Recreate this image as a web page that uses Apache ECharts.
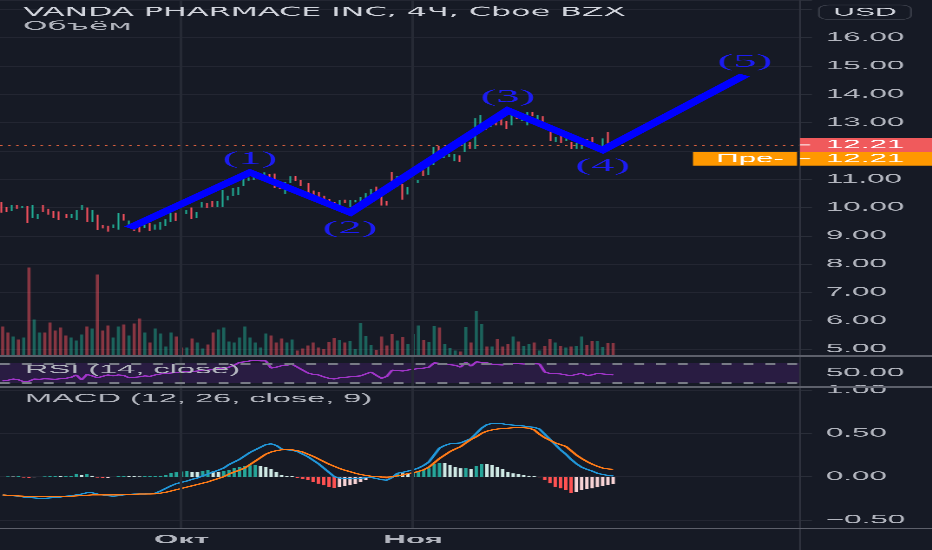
<!DOCTYPE html>
<html><head><meta charset="utf-8">
<script src="https://cdn.jsdelivr.net/npm/echarts@6/dist/echarts.min.js"></script>
<style>
html,body{margin:0;padding:0;background:#161a25;overflow:hidden;width:932px;height:550px;}
#wrap{position:absolute;left:0;top:0;width:358px;height:550px;transform:scaleX(2.6033520);transform-origin:0 0;}
#chart{width:358px;height:550px;}
</style></head><body>
<div id="wrap"><div id="chart"></div></div>
<script>
// ---------------- texts ----------------
const titleText = 'VANDA PHARMACE INC, 4Ч, Cboe BZX';
const volumeTitle = 'Объём';
const rsiTitle = 'RSI (14, close)';
const macdTitle = 'MACD (12, 26, close, 9)';
const currencyLabel = 'USD';
const preMarketLabel = 'Пре-';
const monthLabels = ['Окт', 'Ноя'];
const monthIndex = [34, 78];
const slotCount = 152; // time slots on the axis (117 bars + empty space on the right)

// ---------------- 4h bars ----------------
const open = [10.15,10.00,9.90,10.06,9.98,10.03,9.66,9.64,10.03,9.88,
9.86,9.84,9.74,9.66,9.58,9.92,9.97,9.50,9.73,9.37,
9.35,9.30,9.30,9.76,9.31,9.44,9.46,9.30,9.42,9.23,
9.30,9.36,9.50,9.80,9.90,9.80,9.94,9.64,10.03,10.15,
10.22,10.05,10.05,10.27,10.45,10.47,10.77,10.98,11.00,11.09,
11.14,11.15,11.15,10.76,10.50,10.89,11.09,10.94,10.85,10.59,
10.54,10.40,10.29,10.17,10.05,10.26,10.05,10.20,10.20,10.33,
10.29,10.68,10.41,10.20,10.95,10.76,10.82,10.48,10.88,10.90,
11.29,11.18,11.65,12.12,11.85,11.80,11.65,11.82,12.15,12.29,
12.09,12.95,13.03,12.92,13.15,13.10,13.03,12.92,13.39,13.10,
12.95,13.34,13.12,13.19,12.76,12.33,12.45,12.36,12.29,12.10,
12.29,12.40,12.48,12.09,12.03,12.60,12.30];
const high = [10.20,10.02,10.08,10.08,10.06,10.05,10.08,9.76,10.08,9.96,
9.87,9.86,9.76,9.78,9.90,10.10,10.00,9.90,9.75,9.38,
9.36,9.40,9.80,9.78,9.54,9.46,9.48,9.40,9.44,9.40,
9.50,9.58,9.80,9.82,9.98,9.90,10.00,9.84,10.20,10.17,
10.24,10.22,10.62,10.42,10.70,10.73,11.06,11.06,11.24,11.22,
11.24,11.18,11.20,10.78,10.90,11.10,11.12,10.96,10.87,10.60,
10.56,10.42,10.31,10.19,10.26,10.28,10.26,10.26,10.38,10.50,
10.66,10.74,10.43,10.22,11.26,11.12,10.84,10.73,11.26,10.98,
11.31,11.46,12.15,12.17,11.98,11.90,11.88,11.84,12.38,12.31,
13.15,13.26,13.05,13.08,13.20,13.16,13.05,13.35,13.40,13.24,
13.38,13.38,13.27,13.22,12.78,12.50,12.52,12.44,12.31,12.29,
12.46,12.42,12.50,12.22,12.44,12.68,12.36];
const low = [9.82,9.84,9.88,9.96,9.97,9.45,9.64,9.60,9.84,9.75,
9.62,9.56,9.62,9.64,9.56,9.90,9.48,9.48,9.20,9.26,
9.15,9.28,9.22,9.54,9.28,9.18,9.12,9.28,9.16,9.22,
9.22,9.34,9.48,9.52,9.78,9.78,9.60,9.62,10.00,9.98,
10.03,10.02,10.03,10.25,10.40,10.45,10.75,10.95,10.98,11.07,
11.10,11.03,10.70,10.66,10.48,10.87,10.93,10.76,10.52,10.42,
10.28,10.24,10.12,9.98,10.03,10.16,10.03,10.18,10.18,10.31,
10.27,10.56,10.07,10.07,10.62,10.74,10.28,10.46,10.86,10.86,
11.12,11.16,11.50,11.93,11.75,11.79,11.63,11.62,11.95,12.08,
12.07,12.90,12.74,12.85,12.90,12.90,12.78,12.90,13.13,13.06,
12.90,13.22,13.10,12.80,12.34,12.31,12.28,12.34,12.07,12.08,
12.08,12.33,12.09,12.05,11.98,12.25,12.18];
const close = [9.86,9.86,10.06,9.98,10.04,9.56,9.72,9.72,9.86,9.82,
9.80,9.58,9.64,9.74,9.88,10.02,9.50,9.88,9.32,9.28,
9.30,9.38,9.44,9.56,9.52,9.20,9.16,9.36,9.18,9.38,
9.40,9.56,9.79,9.64,9.84,9.88,9.64,9.82,10.18,10.05,
10.05,10.15,10.33,10.40,10.50,10.71,11.03,11.02,11.18,11.20,
11.17,11.06,10.73,10.68,10.89,11.09,10.95,10.78,10.54,10.44,
10.30,10.30,10.14,10.02,10.24,10.18,10.22,10.24,10.36,10.48,
10.64,10.62,10.09,10.09,10.73,11.10,10.36,10.71,10.97,10.94,
11.16,11.44,12.09,12.06,11.95,11.89,11.86,11.68,12.31,12.09,
13.00,13.20,12.76,13.05,12.92,12.92,12.80,13.27,13.15,13.20,
13.30,13.26,13.24,12.83,12.36,12.48,12.38,12.42,12.09,12.27,
12.44,12.35,12.11,12.20,12.42,12.27,12.21];
// volume, thousands of shares
const volume = [580,460,380,320,360,1760,720,460,460,660,500,560,400,360,300,420,580,540,1620,500,
600,360,580,620,400,640,740,460,260,540,440,180,460,380,160,160,340,260,140,220,
460,520,560,280,260,360,580,360,260,160,440,400,260,340,260,320,100,140,200,260,160,
134,266,346,314,260,294,126,646,394,214,114,380,200,434,300,366,234,434,600,314,
266,594,560,234,146,100,80,566,260,894,626,180,180,326,180,234,380,280,194,234,
260,100,194,326,260,194,160,180,194,380,214,294,294,166,246,246];
const rsi = [33.5,35,37.6,36,32,33,37.6,37,38,37.6,
37,38,39,41,46,35.6,47,44,40,43,
46,44,46,45,40,41,42,44,43,46,
48,49,50,51,52,52.7,53,54,55,56,
57,58.5,60,62,66,72,73,75,75.5,75,
75,60,62,65,66,68,62,56,50,47,
46,42,39,37.6,40,41,42,43,44,48,
52,45,39,43,56,55,54,56,57.6,59,
60,62,71,70,68,67,66,62,72,64,
73,72,71,68,67,66.5,68,70,69,68.5,
68.5,69,68.5,52,49,48.5,48,46,44.5,47,
49.4,45,46,49.4,48,47,46];
const macd = [-0.21,-0.215,-0.22,-0.225,-0.235,-0.24,-0.245,-0.25,-0.25,-0.245,
-0.24,-0.235,-0.225,-0.22,-0.21,-0.2,-0.185,-0.185,-0.2,-0.21,
-0.22,-0.225,-0.22,-0.21,-0.205,-0.2,-0.2,-0.2,-0.195,-0.19,
-0.165,-0.135,-0.105,-0.08,-0.065,-0.05,-0.03,-0.015,0.01,0.03,
0.055,0.075,0.1,0.14,0.17,0.2,0.24,0.28,0.31,0.34,
0.37,0.38,0.36,0.32,0.31,0.305,0.29,0.26,0.23,0.19,
0.15,0.1,0.05,0.0,-0.015,-0.02,-0.025,-0.02,-0.018,-0.012,
-0.01,-0.02,-0.035,-0.04,-0.01,0.04,0.05,0.065,0.08,0.1,
0.13,0.17,0.25,0.33,0.36,0.38,0.385,0.39,0.415,0.44,
0.5,0.56,0.6,0.615,0.615,0.61,0.6,0.595,0.59,0.585,
0.575,0.57,0.55,0.49,0.43,0.37,0.31,0.26,0.2,0.15,
0.11,0.085,0.065,0.04,0.025,0.015,0.008];
const signal = [-0.21,-0.215,-0.22,-0.222,-0.225,-0.227,-0.228,-0.23,-0.23,-0.23,
-0.23,-0.23,-0.228,-0.226,-0.222,-0.218,-0.214,-0.21,-0.21,-0.21,
-0.21,-0.21,-0.21,-0.208,-0.205,-0.203,-0.2,-0.2,-0.2,-0.198,
-0.19,-0.18,-0.165,-0.15,-0.135,-0.12,-0.105,-0.09,-0.075,-0.06,
-0.04,-0.02,0.0,0.03,0.055,0.075,0.1,0.14,0.18,0.22,
0.26,0.285,0.3,0.31,0.312,0.31,0.3,0.285,0.26,0.235,
0.205,0.175,0.145,0.12,0.095,0.075,0.058,0.04,0.025,0.015,
0.005,0.0,-0.003,-0.005,-0.002,0.01,0.02,0.035,0.046,0.06,
0.08,0.11,0.16,0.21,0.25,0.29,0.32,0.346,0.39,0.43,
0.46,0.5,0.525,0.54,0.55,0.555,0.56,0.565,0.565,0.565,
0.56,0.54,0.49,0.45,0.42,0.39,0.37,0.35,0.3,0.25,
0.21,0.175,0.145,0.12,0.1,0.09,0.085];
const hist = [-0.004,0.003,0.002,0.004,-0.01,-0.014,-0.008,-0.004,0.003,0.004,0.005,0.004,0.006,
0.01,0.035,0.02,0.028,0.012,-0.01,-0.018,-0.012,-0.004,0.004,0.006,0.005,0.004,0.003,0.004,0.005,0.008,0.012,
0.02,0.04,0.05,0.06,0.065,0.055,0.052,0.065,0.08,0.06,0.055,0.065,0.08,0.1,0.108,0.12,0.13,0.135,0.123,0.108,0.085,0.058,0.02,0.008,0.004,
-0.012,-0.025,-0.04,-0.06,-0.08,-0.1,-0.12,-0.13,-0.12,-0.11,-0.1,-0.085,-0.06,-0.04,-0.015,-0.005,-0.01,-0.02,0.01,0.04,
0.038,0.035,0.05,0.058,0.077,0.096,0.146,0.16,0.155,0.135,0.115,0.096,0.1,0.085,0.123,0.146,0.145,0.135,0.108,0.085,
0.058,0.038,0.031,0.019,0.012,0.008,-0.008,-0.038,-0.077,-0.115,-0.135,-0.154,-0.185,-0.175,-0.154,-0.146,-0.135,-0.123,-0.108,-0.096,-0.088];
// Elliott wave drawing (bar slot, price)
const waveIndex = [24, 47, 66, 96, 114, 141];
const wavePrice = [9.27, 11.24, 9.82, 13.43, 12.03, 14.68];
const waveLabels = ['', '(1)', '(2)', '(3)', '(4)', '(5)'];
const lastPrice = 12.21;
const preMarketPrice = 12.21;
const rsiLevels = [70, 30];

// ---------------- layout helpers ----------------
const K = 932 / 358;            // page is stretched horizontally by K
const nx = v => v / K;          // reference-pixel x -> chart x
const BG = '#161a25';
const AXIS_TXT = '#b2b5be';
const UP = '#22ab94', DOWN = '#f7525f';
const gx = { left: nx(-0.625), width: nx(800.625) };
const grids = [
  Object.assign({ top: 0, height: 356 }, gx),
  Object.assign({ top: 255.5, height: 100 }, gx),
  Object.assign({ top: 356.5, height: 31 }, gx),
  Object.assign({ top: 387.5, height: 140.5 }, gx)
];
const slots = Array.from({ length: slotCount }, (_, i) => String(i));
const xAxes = grids.map((g, gi) => ({
  type: 'category', gridIndex: gi, data: slots, boundaryGap: true,
  axisLine: { show: false }, axisTick: { show: false }, splitLine: { show: false },
  axisLabel: gi === 3 ? {
    show: true, interval: idx => monthIndex.includes(idx),
    formatter: v => { const k = monthIndex.indexOf(Number(v)); return k >= 0 ? monthLabels[k] : ''; },
    color: AXIS_TXT, fontFamily: 'Liberation Sans', fontSize: 12, fontWeight: 'bold', margin: 6
  } : { show: false }
}));
const labelBase = { color: AXIS_TXT, fontFamily: 'Liberation Sans', fontSize: 12, margin: nx(26), align: 'left' };
const tickStyle = { show: true, length: nx(12), lineStyle: { color: '#2a2e39', width: 1 } };
const yAxes = [
  { type: 'value', gridIndex: 0, position: 'right', min: 4.753, max: 17.332, splitNumber: 12,
    axisLine: { show: false }, axisTick: tickStyle,
    splitLine: { lineStyle: { color: '#232632', width: 1 } },
    axisLabel: Object.assign({}, labelBase, { formatter: v => {
      if (Math.abs(v - Math.round(v)) > 1e-6 || v > 16.5) return '';
      if (Math.abs(v - lastPrice) < 0.5) return '';
      return v.toFixed(2);
    } }) },
  { type: 'value', gridIndex: 1, min: 0, max: 2000, show: false, splitLine: { show: false } },
  { type: 'value', gridIndex: 2, position: 'right', min: 20, max: 84, interval: 10,
    axisLine: { show: false }, axisTick: { show: false }, splitLine: { show: false },
    axisLabel: Object.assign({}, labelBase, { formatter: v => v === 50 ? '50.00' : '' }) },
  { type: 'value', gridIndex: 3, position: 'right', min: -0.592, max: 1.029, splitNumber: 3,
    axisLine: { show: false }, axisTick: tickStyle,
    splitLine: { lineStyle: { color: '#232632', width: 1 } },
    axisLabel: Object.assign({}, labelBase, { formatter: v => {
      if (Math.abs(v * 2 - Math.round(v * 2)) > 1e-6) return '';
      return (v < 0 ? '\u2212' : '') + Math.abs(v).toFixed(2);
    } }) }
];
const histColor = i => {
  const v = hist[i], p = i > 0 ? hist[i - 1] : 0;
  return v >= 0 ? (v > p ? '#26a69a' : '#cfe9e5') : (v > p ? '#f7d3d5' : '#ff5252');
};
const vLines = gi => ({
  type: 'line', xAxisIndex: gi, yAxisIndex: gi, data: [], silent: true, z: 0,
  markLine: { silent: true, symbol: ['none', 'none'], label: { show: false }, animation: false,
    lineStyle: { color: '#262a35', width: 1, type: 'solid' },
    data: monthIndex.map(i => ({ xAxis: i })) }
});
const titleStyle = (size, color, fam) => ({ color, fontSize: size, fontFamily: fam, fontWeight: 'normal', lineHeight: 14 });

const option = {
  backgroundColor: BG,
  animation: false,
  title: [
    { text: titleText, left: nx(23), top: 5.5, padding: 0, textStyle: titleStyle(12.2, '#d1d4dc', 'DejaVu Sans') },
    { text: volumeTitle, left: nx(23), top: 19.5, padding: 0, textStyle: titleStyle(12, '#b2b5be', 'DejaVu Sans') },
    { text: rsiTitle, left: nx(25), top: 363, padding: 0, textStyle: titleStyle(12.5, '#b2b5be', 'Liberation Sans') },
    { text: macdTitle, left: nx(25), top: 392, padding: 0, textStyle: titleStyle(12.5, '#b2b5be', 'Liberation Sans') }
  ],
  grid: grids,
  xAxis: xAxes,
  yAxis: yAxes,
  series: [
    vLines(0), vLines(2), vLines(3),
    { type: 'bar', name: 'Volume', xAxisIndex: 1, yAxisIndex: 1, data: volume, barWidth: '60%', silent: true, z: 1,
      itemStyle: { color: p => close[p.dataIndex] >= open[p.dataIndex] ? 'rgba(34,171,148,0.5)' : 'rgba(247,82,95,0.5)' } },
    { type: 'candlestick', name: 'VNDA', xAxisIndex: 0, yAxisIndex: 0, z: 3, barWidth: '64%', silent: true,
      data: open.map((o, i) => [o, close[i], low[i], high[i]]),
      itemStyle: { color: UP, color0: DOWN, borderColor: UP, borderColor0: DOWN, borderWidth: 0.7 },
      markLine: { silent: true, symbol: ['none', 'none'], label: { show: false }, animation: false,
        lineStyle: { color: '#d9603f', type: [1, 2.1], width: 1 }, data: [{ yAxis: lastPrice }] } },
    { type: 'line', name: 'Wave', xAxisIndex: 0, yAxisIndex: 0, z: 5, silent: true,
      symbol: 'circle', symbolSize: 0.1, showSymbol: true,
      itemStyle: { color: 'rgba(0,0,0,0)' },
      lineStyle: { color: '#0000ff', width: 5, cap: 'butt', join: 'miter' },
      label: { fontFamily: 'Liberation Serif', fontSize: 18, color: '#1c1cf0' },
      data: waveIndex.map((x, i) => ({
        value: [x, wavePrice[i]],
        label: waveLabels[i] ? { show: true, formatter: waveLabels[i], position: i % 2 ? 'top' : 'bottom', distance: i % 2 ? 4 : 7 } : { show: false }
      })) },
    { type: 'line', name: 'RSI', xAxisIndex: 2, yAxisIndex: 2, data: rsi, symbol: 'none', silent: true, z: 3,
      lineStyle: { color: '#a035c8', width: 1.2 },
      markArea: { silent: true, itemStyle: { color: 'rgba(130,40,200,0.18)' },
        data: [[{ yAxis: rsiLevels[0] }, { yAxis: rsiLevels[1] }]] },
      markLine: { silent: true, symbol: ['none', 'none'], label: { show: false }, animation: false,
        lineStyle: { color: '#787b86', type: [3.8, 4.6], width: 1.5 },
        data: rsiLevels.map(v => ({ yAxis: v })) } },
    { type: 'bar', name: 'Histogram', xAxisIndex: 3, yAxisIndex: 3, data: hist, barWidth: '65%', silent: true, z: 2,
      itemStyle: { color: p => histColor(p.dataIndex) } },
    { type: 'line', name: 'MACD', xAxisIndex: 3, yAxisIndex: 3, data: macd, symbol: 'none', silent: true, z: 4,
      lineStyle: { color: '#2196d8', width: 1.2 } },
    { type: 'line', name: 'Signal', xAxisIndex: 3, yAxisIndex: 3, data: signal, symbol: 'none', silent: true, z: 4,
      lineStyle: { color: '#ff7b17', width: 1.2 } }
  ],
  graphic: [
    { id: 'axisSep', type: 'line', silent: true, z: 50, shape: { x1: nx(800), y1: 0, x2: nx(800), y2: 550 }, style: { stroke: '#30343f', lineWidth: 0.7 } },
    { id: 'sep1', type: 'line', silent: true, z: 50, shape: { x1: 0, y1: 356, x2: 358, y2: 356 }, style: { stroke: '#5d606b', lineWidth: 1.3 } },
    { id: 'sep2', type: 'line', silent: true, z: 50, shape: { x1: 0, y1: 387, x2: 358, y2: 387 }, style: { stroke: '#5d606b', lineWidth: 1.3 } },
    { id: 'sep3', type: 'line', silent: true, z: 50, shape: { x1: 0, y1: 528.3, x2: 358, y2: 528.3 }, style: { stroke: '#5d606b', lineWidth: 1.3 } },
    { id: 'usdBox', type: 'rect', silent: true, z: 60, shape: { x: nx(819), y: 5, width: nx(92), height: 14.5, r: 4 }, style: { fill: BG, stroke: '#363a45', lineWidth: 0.8 } },
    { id: 'usdTxt', type: 'text', silent: true, z: 61, x: nx(865), y: 12.5, style: { text: currencyLabel, fill: '#d1d4dc', fontFamily: 'Liberation Sans', fontSize: 11.5, align: 'center', verticalAlign: 'middle' } }
  ]
};

const chart = echarts.init(document.getElementById('chart'), null, { renderer: 'canvas', devicePixelRatio: 3 });
chart.setOption(option);

// price labels on the right axis, placed through the price scale
const yP = chart.convertToPixel({ yAxisIndex: 0 }, lastPrice);
const yPre = yP + 7.2 + 6.7;
const boxW = nx(133);
chart.setOption({ graphic: [
  { id: 'lastBox', type: 'rect', silent: true, z: 70, shape: { x: nx(800), y: yP - 7.2, width: boxW, height: 14.4 }, style: { fill: '#f05a5c' } },
  { id: 'lastTick', type: 'line', silent: true, z: 71, shape: { x1: nx(800), y1: yP, x2: nx(810), y2: yP }, style: { stroke: '#ffffff', lineWidth: 1 } },
  { id: 'lastTxt', type: 'text', silent: true, z: 71, x: nx(826), y: yP, style: { text: lastPrice.toFixed(2), fill: '#ffffff', fontFamily: 'Liberation Sans', fontSize: 12, align: 'left', verticalAlign: 'middle' } },
  { id: 'preBox', type: 'rect', silent: true, z: 70, shape: { x: nx(800), y: yP + 7.2, width: boxW, height: 13.4 }, style: { fill: '#ff9800' } },
  { id: 'preTick', type: 'line', silent: true, z: 71, shape: { x1: nx(800), y1: yPre, x2: nx(810), y2: yPre }, style: { stroke: '#ffffff', lineWidth: 1 } },
  { id: 'preTxt', type: 'text', silent: true, z: 71, x: nx(826), y: yPre, style: { text: preMarketPrice.toFixed(2), fill: '#ffffff', fontFamily: 'Liberation Sans', fontSize: 12, align: 'left', verticalAlign: 'middle' } },
  { id: 'preTagBox', type: 'rect', silent: true, z: 70, shape: { x: nx(693), y: yP + 7.2, width: nx(104), height: 13.4 }, style: { fill: '#ff9800' } },
  { id: 'preTagTxt', type: 'text', silent: true, z: 71, x: nx(750), y: yPre, style: { text: preMarketLabel, fill: '#ffffff', fontFamily: 'Liberation Sans', fontSize: 12, align: 'center', verticalAlign: 'middle' } }
] });
</script>
</body></html>
